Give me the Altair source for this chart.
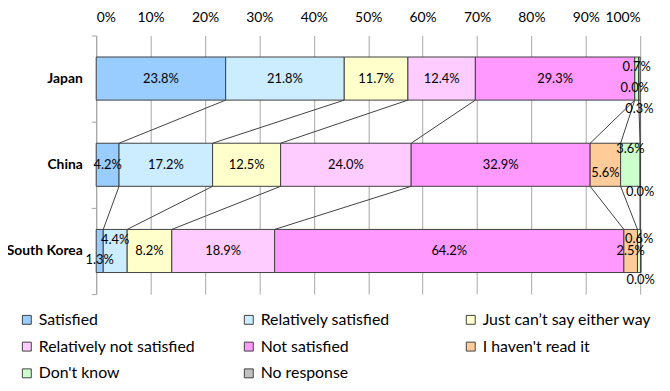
import altair as alt
import pandas as pd

countries = ["Japan", "China", "South Korea"]
categories = ["Satisfied", "Relatively satisfied", "Just can’t say either way",
              "Relatively not satisfied", "Not satisfied", "I haven't read it",
              "Don't know", "No response"]
japan = [23.8, 21.8, 11.7, 12.4, 29.3, 0.0, 0.7, 0.3]
china = [4.2, 17.2, 12.5, 24.0, 32.9, 5.6, 3.6, 0.0]
korea = [1.3, 4.4, 8.2, 18.9, 64.2, 2.5, 0.6, 0.0]
colors = ["#99CCFF", "#CCECFF", "#FFFFCC", "#FFCCFF", "#FF99FF", "#FFCC99", "#CCFFCC", "#C0C0C0"]
ticks_pct = list(range(0, 101, 10))

# label nudges (pixels) for crowded small segments, as the original chart shifted them
nudges = {("Japan", "I haven't read it"): 10, ("Japan", "Don't know"): -12,
          ("Japan", "No response"): 31,
          ("China", "I haven't read it"): 8, ("China", "Don't know"): -16,
          ("China", "No response"): 28,
          ("South Korea", "Satisfied"): 9, ("South Korea", "Relatively satisfied"): -11,
          ("South Korea", "Don't know"): -12, ("South Korea", "No response"): 29}

W, H = 549, 261
BAND = H / len(countries)

series = [japan, china, korea]

rows = []
ends = []
for i, (c, vals) in enumerate(zip(countries, series)):
    cum = 0.0
    e = []
    for k, (cat, v) in enumerate(zip(categories, vals)):
        rows.append({"country": c, "idx": i, "category": cat, "k": k, "value": v,
                     "start": cum, "end": cum + v, "mid": cum + v / 2,
                     "label": f"{v:.1f}%",
                     "ly": i + 0.5 + nudges.get((c, cat), 0) / BAND})
        cum += v
        e.append(cum)
    ends.append(e)
df = pd.DataFrame(rows)
df["top"] = df["idx"] + 0.25
df["bot"] = df["idx"] + 0.75

lines = []
for i in range(len(countries) - 1):
    for k in range(len(categories)):
        lines.append({"x1": min(ends[i][k], 100.0), "x2": min(ends[i + 1][k], 100.0),
                      "y1": i + 0.75, "y2": i + 1.25})
ldf = pd.DataFrame(lines)

FONT = "Lato"

xscale = alt.Scale(domain=[0, 100], nice=False, zero=False)
yscale = alt.Scale(domain=[0, 3], reverse=True, nice=False, zero=False)

label_expr = " : ".join(
    [f"datum.value == {i + 0.5} ? '{c}'" for i, c in enumerate(countries)]) + " : ''"

bars = alt.Chart(df).mark_bar(stroke="#404040", strokeWidth=1).encode(
    x=alt.X("start:Q", scale=xscale,
            axis=alt.Axis(orient="top", values=ticks_pct, labelExpr="datum.value + '%'",
                          ticks=False, tickSize=0, domain=False, grid=True,
                          gridColor="#A6A6A6", gridWidth=1, labelFont=FONT,
                          labelFontSize=14, labelColor="black", labelPadding=11,
                          title=None)),
    x2="end:Q",
    y=alt.Y("top:Q", scale=yscale,
            axis=alt.Axis(values=[0, 0.5, 1, 1.5, 2, 2.5, 3], labelExpr=label_expr,
                          grid=False, domain=True, domainColor="#A6A6A6",
                          tickColor="#A6A6A6", tickSize=5,
                          tickOpacity=alt.condition("datum.value % 1 == 0", alt.value(1), alt.value(0)),
                          labelFont=FONT, labelFontSize=14, labelFontWeight="bold",
                          labelColor="black", labelPadding=9, title=None)),
    y2="bot:Q",
    color=alt.Color("category:N", scale=alt.Scale(domain=categories, range=colors),
                    sort=categories,
                    legend=alt.Legend(orient="none", legendX=-78, legendY=279, columns=3,
                                      direction="horizontal",
                                      symbolType="square", symbolSize=81,
                                      symbolStrokeColor="#404040", symbolStrokeWidth=1,
                                      labelFont=FONT, labelFontSize=16, labelColor="black",
                                      columnPadding=33, rowPadding=11, gridAlign="all",
                                      labelLimit=400, title=None, symbolOpacity=1)),
)

rules = alt.Chart(ldf).mark_rule(color="#404040", strokeWidth=1).encode(
    x=alt.X("x1:Q", scale=xscale), x2="x2:Q",
    y=alt.Y("y1:Q", scale=yscale), y2="y2:Q",
)

texts = alt.Chart(df).mark_text(font=FONT, fontSize=13, color="black").encode(
    x=alt.X("mid:Q", scale=xscale),
    y=alt.Y("ly:Q", scale=yscale),
    text="label:N",
)

chart = alt.layer(bars, rules, texts).properties(
    width=W, height=H,
    autosize=alt.AutoSizeParams(type="none"),
    padding={"left": 89, "top": 26, "right": 22, "bottom": 86},
).configure_view(stroke=None)

chart.save("out.html", embed_options={"renderer": "svg", "actions": False})
